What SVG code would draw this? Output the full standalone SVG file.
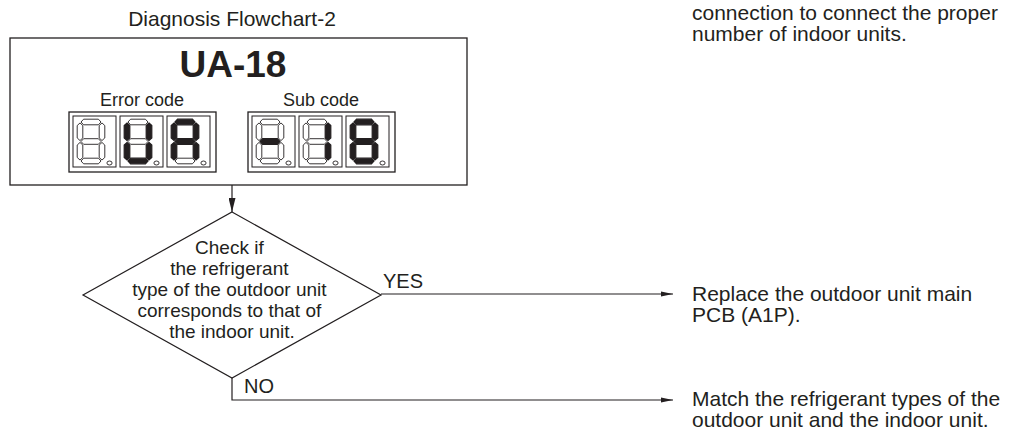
<svg xmlns="http://www.w3.org/2000/svg" xmlns:xlink="http://www.w3.org/1999/xlink" width="1013" height="437" viewBox="0 0 1013 437">
<style>
.t{font-family:"Liberation Sans",Arial,sans-serif;fill:#231f20}
.box{fill:none;stroke:#231f20;stroke-width:1.3}
.dbox{fill:#fff;stroke:#231f20;stroke-width:1}
.off{fill:#fff;stroke:#231f20;stroke-width:0.9}
.on{fill:#231f20;stroke:#231f20;stroke-width:1.2}
.line{fill:none;stroke:#231f20;stroke-width:1.2}
</style>
<defs>
<polygon id="sH" points="-10,0 -7.4,-2.8 7.4,-2.8 10,0 7.4,2.8 -7.4,2.8"/>
<polygon id="sV" points="0,-8.8 2.8,-6.2 2.8,6.2 0,8.8 -2.8,6.2 -2.8,-6.2"/>
<marker id="arrH" viewBox="0 0 12 6" refX="12" refY="3" markerWidth="12" markerHeight="6" markerUnits="userSpaceOnUse" orient="auto"><path d="M0,0.5 L12,3 L0,5.5 Z" fill="#231f20"/></marker>
<marker id="arrV" viewBox="0 0 14 7" refX="14" refY="3.5" markerWidth="14" markerHeight="7" markerUnits="userSpaceOnUse" orient="auto"><path d="M0,0 L14,3.5 L0,7 Z" fill="#231f20"/></marker>
</defs>

<text class="t" x="232" y="26" font-size="21" text-anchor="middle">Diagnosis Flowchart-2</text>

<g id="node-code">
<rect class="box" x="10" y="38" width="457" height="147"/>
<text class="t" x="233" y="77" font-size="37" font-weight="bold" text-anchor="middle">UA-18</text>
<text class="t" x="142" y="106" font-size="18" text-anchor="middle">Error code</text>
<text class="t" x="321" y="106" font-size="18" text-anchor="middle">Sub code</text>
<rect class="box" x="69" y="112" width="147" height="60" stroke-width="1"/>
<rect class="box" x="248" y="112" width="147" height="60" stroke-width="1"/>

<g transform="translate(73,116)">
<rect class="dbox" width="43" height="51"/>
<use href="#sH" x="18" y="6" class="off"/><use href="#sH" x="18" y="25.5" class="off"/><use href="#sH" x="18" y="45" class="off"/>
<use href="#sV" x="7" y="15.75" class="off"/><use href="#sV" x="7" y="35.25" class="off"/>
<use href="#sV" x="29" y="15.75" class="off"/><use href="#sV" x="29" y="35.25" class="off"/>
<ellipse cx="36.5" cy="47" rx="2.6" ry="2" class="off"/>
</g>
<g transform="translate(120,116)">
<rect class="dbox" width="43" height="51"/>
<use href="#sH" x="18" y="6" class="off"/><use href="#sH" x="18" y="25.5" class="off"/><use href="#sH" x="18" y="45" class="on"/>
<use href="#sV" x="7" y="15.75" class="on"/><use href="#sV" x="7" y="35.25" class="on"/>
<use href="#sV" x="29" y="15.75" class="on"/><use href="#sV" x="29" y="35.25" class="on"/>
<ellipse cx="36.5" cy="47" rx="2.6" ry="2" class="off"/>
</g>
<g transform="translate(167,116)">
<rect class="dbox" width="43" height="51"/>
<use href="#sH" x="18" y="6" class="on"/><use href="#sH" x="18" y="25.5" class="on"/><use href="#sH" x="18" y="45" class="off"/>
<use href="#sV" x="7" y="15.75" class="on"/><use href="#sV" x="7" y="35.25" class="on"/>
<use href="#sV" x="29" y="15.75" class="on"/><use href="#sV" x="29" y="35.25" class="on"/>
<ellipse cx="36.5" cy="47" rx="2.6" ry="2" class="off"/>
</g>
<g transform="translate(252,116)">
<rect class="dbox" width="43" height="51"/>
<use href="#sH" x="18" y="6" class="off"/><use href="#sH" x="18" y="25.5" class="on"/><use href="#sH" x="18" y="45" class="off"/>
<use href="#sV" x="7" y="15.75" class="off"/><use href="#sV" x="7" y="35.25" class="off"/>
<use href="#sV" x="29" y="15.75" class="off"/><use href="#sV" x="29" y="35.25" class="off"/>
<ellipse cx="36.5" cy="47" rx="2.6" ry="2" class="off"/>
</g>
<g transform="translate(299,116)">
<rect class="dbox" width="43" height="51"/>
<use href="#sH" x="18" y="6" class="off"/><use href="#sH" x="18" y="25.5" class="off"/><use href="#sH" x="18" y="45" class="off"/>
<use href="#sV" x="7" y="15.75" class="off"/><use href="#sV" x="7" y="35.25" class="off"/>
<use href="#sV" x="29" y="15.75" class="on"/><use href="#sV" x="29" y="35.25" class="on"/>
<ellipse cx="36.5" cy="47" rx="2.6" ry="2" class="off"/>
</g>
<g transform="translate(346,116)">
<rect class="dbox" width="43" height="51"/>
<use href="#sH" x="18" y="6" class="on"/><use href="#sH" x="18" y="25.5" class="on"/><use href="#sH" x="18" y="45" class="on"/>
<use href="#sV" x="7" y="15.75" class="on"/><use href="#sV" x="7" y="35.25" class="on"/>
<use href="#sV" x="29" y="15.75" class="on"/><use href="#sV" x="29" y="35.25" class="on"/>
<ellipse cx="36.5" cy="47" rx="2.6" ry="2" class="off"/>
</g>
</g>

<g id="node-decision">
<polygon class="line" points="232,212 381,295 232,378 83,295"/>
<text class="t" font-size="19" text-anchor="middle">
<tspan x="232" y="254">Check if</tspan>
<tspan x="232" y="275">the refrigerant</tspan>
<tspan x="232" y="296">type of the outdoor unit</tspan>
<tspan x="232" y="317">corresponds to that of</tspan>
<tspan x="232" y="338">the indoor unit.</tspan>
</text>
</g>

<g id="node-note-top">
<text class="t" font-size="21"><tspan x="692" y="20">connection to connect the proper</tspan><tspan x="692" y="41">number of indoor units.</tspan></text>
</g>

<g id="node-replace">
<text class="t" font-size="21"><tspan x="692" y="301">Replace the outdoor unit main</tspan><tspan x="692" y="322">PCB (A1P).</tspan></text>
</g>

<g id="node-match">
<text class="t" font-size="21"><tspan x="692" y="406">Match the refrigerant types of the</tspan><tspan x="692" y="427">outdoor unit and the indoor unit.</tspan></text>
</g>

<g id="connectors">
<line class="line" x1="232" y1="185" x2="232" y2="212" marker-end="url(#arrV)"/>
<line class="line" x1="381" y1="294" x2="673" y2="294" marker-end="url(#arrH)"/>
<polyline class="line" points="232,378 232,400 673,400" marker-end="url(#arrH)"/>
<text class="t" x="383" y="288" font-size="20">YES</text>
<text class="t" x="244" y="393" font-size="20">NO</text>
</g>
</svg>
